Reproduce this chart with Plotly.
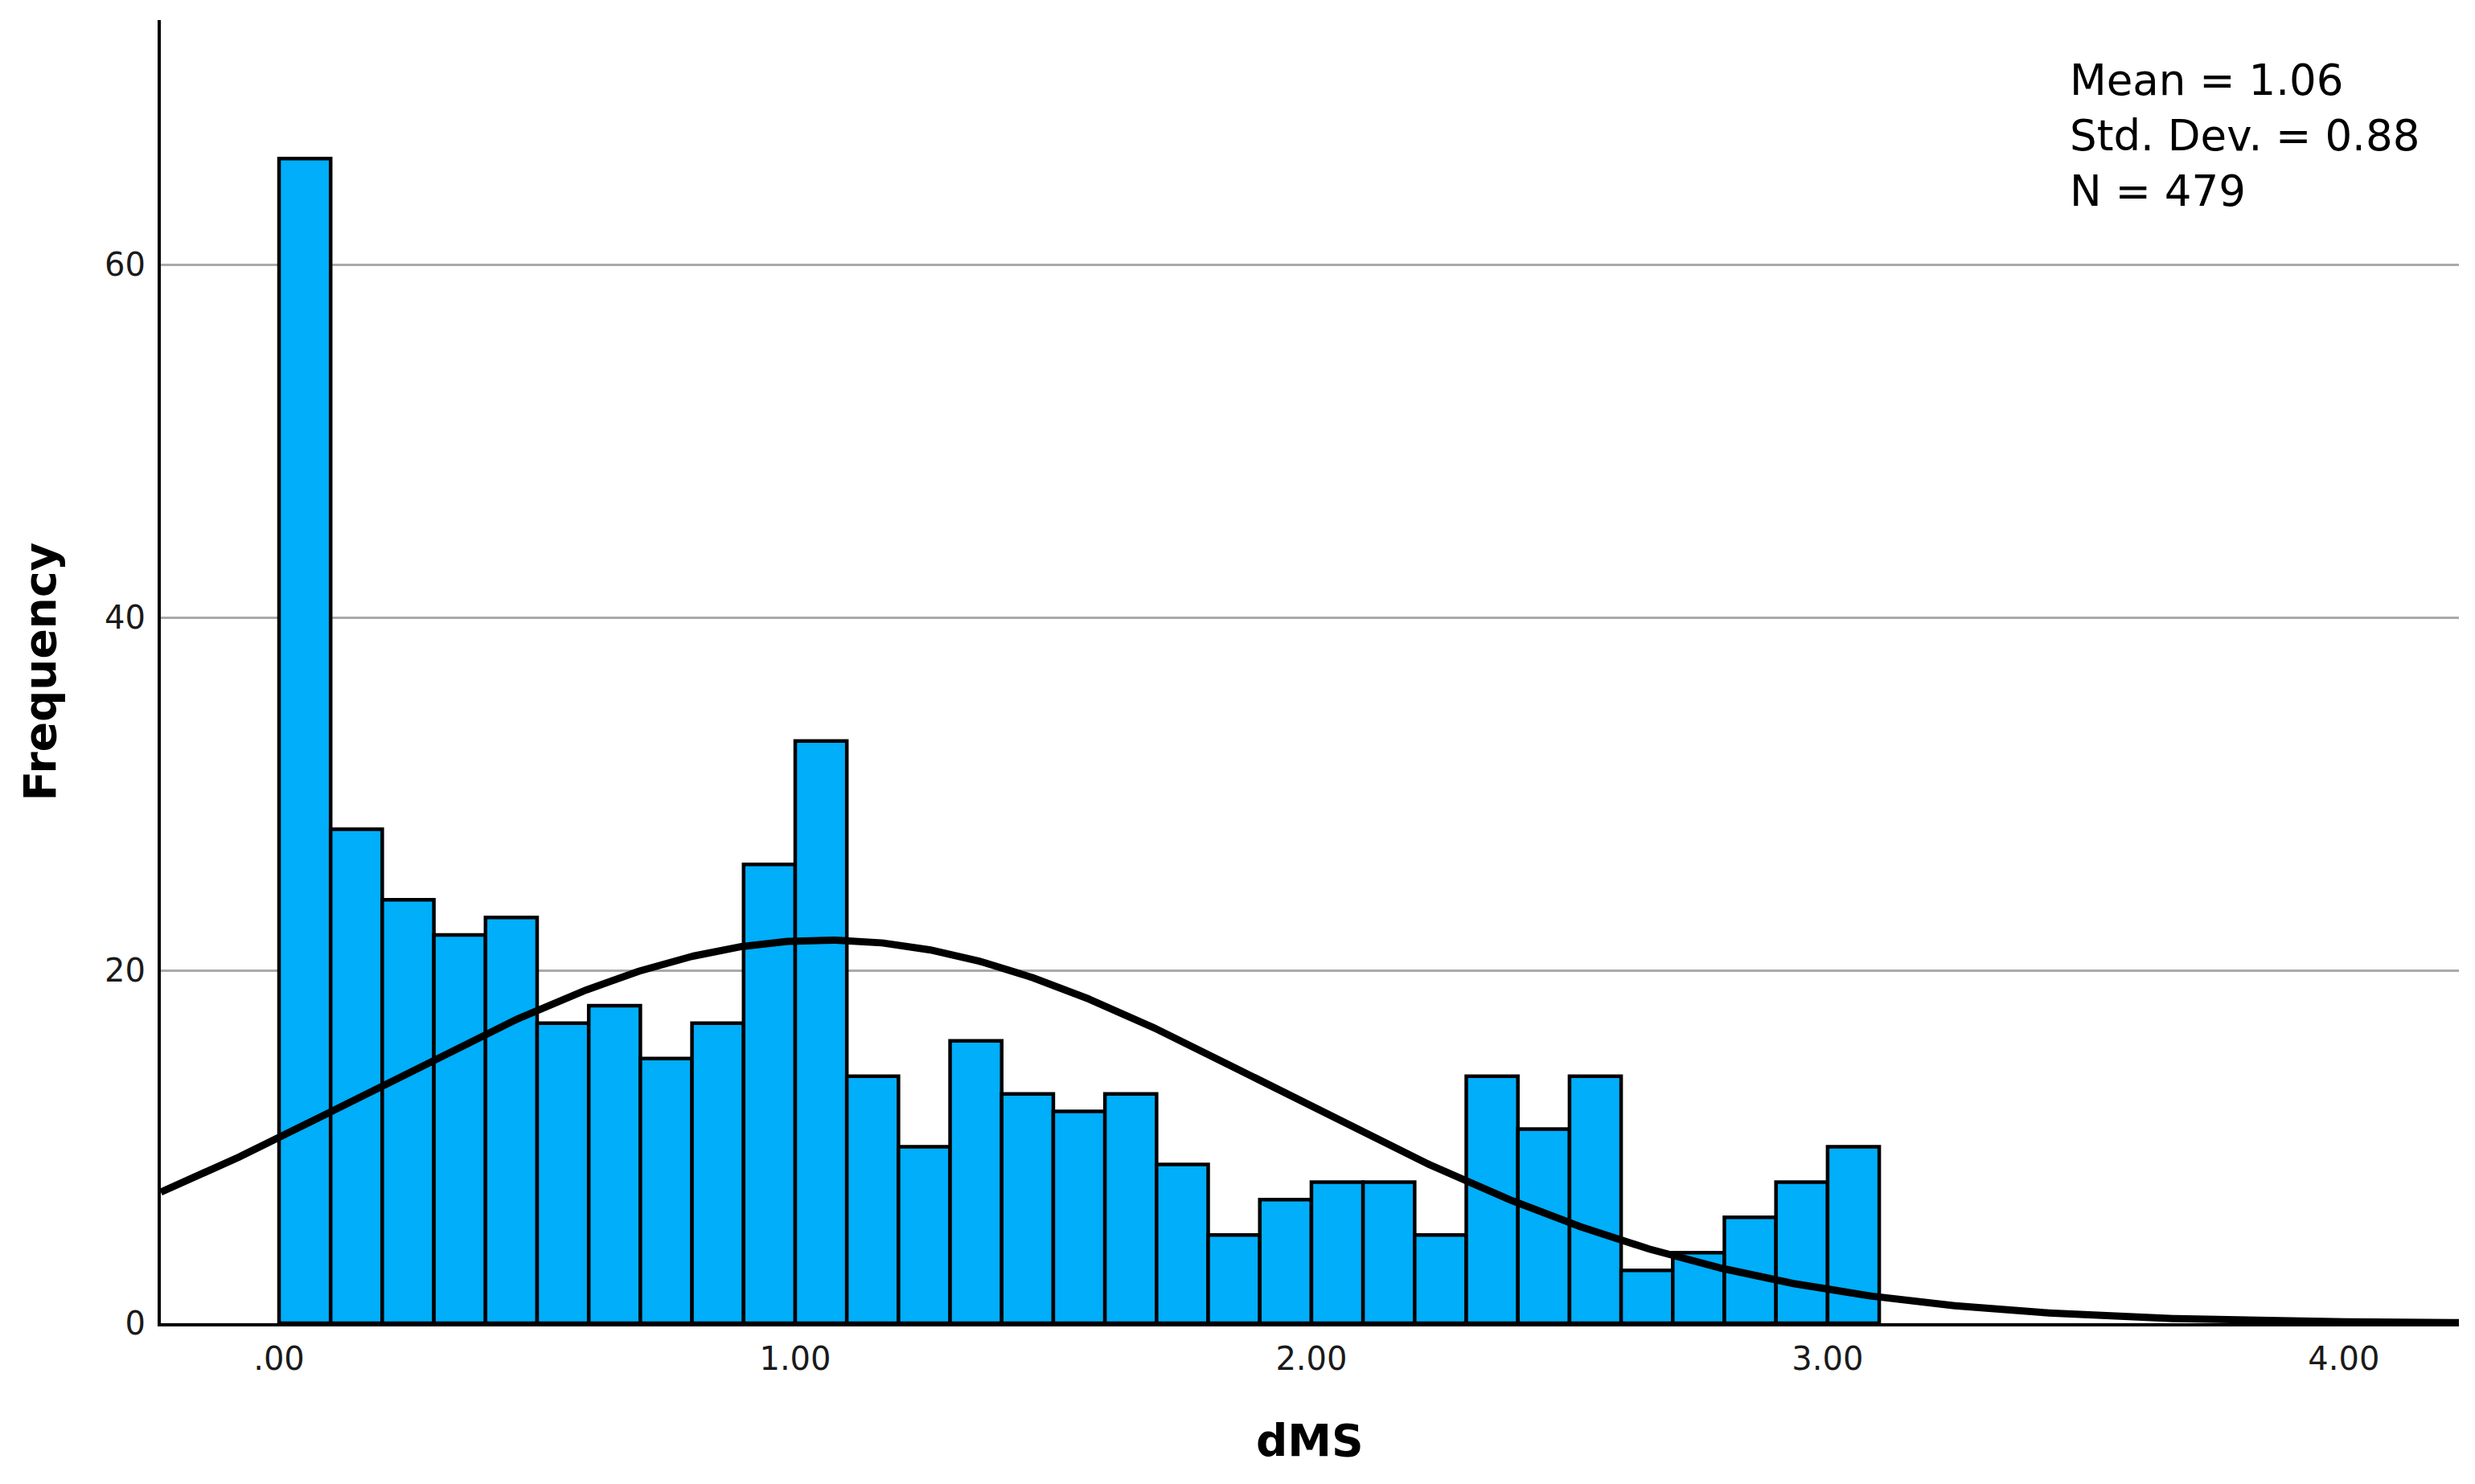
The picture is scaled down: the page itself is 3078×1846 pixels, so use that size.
import numpy as np
import plotly.graph_objects as go

# histogram bins (left edges, width 0.1) and counts
bin_left = [0.0, 0.1, 0.2, 0.3, 0.4, 0.5, 0.6, 0.7, 0.8, 0.9,
            1.0, 1.1, 1.2, 1.3, 1.4, 1.5, 1.6, 1.7, 1.8, 1.9,
            2.0, 2.1, 2.2, 2.3, 2.4, 2.5, 2.6, 2.7, 2.8, 2.9, 3.0]
counts = [66, 28, 24, 22, 23, 17, 18, 15, 17, 26,
          33, 14, 10, 16, 13, 12, 13, 9, 5, 7,
          8, 8, 5, 14, 11, 14, 3, 4, 6, 8, 10]
bin_width = 0.1

# summary statistics shown in the corner
mean = 1.06
std_dev = 0.88
n = 479

x_tick_vals = [0, 1, 2, 3, 4]
x_tick_labels = [".00", "1.00", "2.00", "3.00", "4.00"]
y_tick_vals = [0, 20, 40, 60]
y_tick_labels = ["0", "20", "40", "60"]

x_range = [-0.229, 4.223]
y_range = [0, 73.85]

# normal curve scaled to the histogram (count per bin)
xs = np.linspace(x_range[0], x_range[1], 1200)
curve = n * bin_width / (std_dev * np.sqrt(2 * np.pi)) * np.exp(-0.5 * ((xs - mean) / std_dev) ** 2)

centers = [b + bin_width / 2 for b in bin_left]

fig = go.Figure()
fig.add_trace(go.Bar(
    x=centers, y=counts, width=bin_width,
    marker=dict(color="rgb(0,174,250)", line=dict(color="black", width=4.5)),
    showlegend=False, hoverinfo="x+y",
))
fig.add_trace(go.Scatter(
    x=xs, y=curve, mode="lines",
    line=dict(color="black", width=9),
    showlegend=False, hoverinfo="skip",
))

tick_font = dict(family="DejaVu Sans", size=40, color="#1a1a1a")
title_font = dict(family="DejaVu Sans", size=55, color="black")

# page body adds ~8px offset, so margins are shifted to compensate
fig.update_layout(
    width=3078, height=1846,
    margin=dict(l=192, r=28, t=17, b=208),
    paper_bgcolor="white", plot_bgcolor="white",
    bargap=0.055,
    xaxis=dict(
        range=x_range, tickvals=x_tick_vals, ticktext=x_tick_labels,
        showgrid=False, zeroline=False, showline=True,
        linecolor="black", linewidth=4, ticks="", tickfont=tick_font,
        ticklabelstandoff=6,
    ),
    yaxis=dict(
        range=y_range, tickvals=y_tick_vals, ticktext=y_tick_labels,
        showgrid=True, gridcolor="#aaaaaa", gridwidth=3,
        zeroline=False, showline=True,
        linecolor="black", linewidth=4, ticks="", tickfont=tick_font,
        ticklabelstandoff=7,
    ),
)

# axis titles
fig.add_annotation(text="<b>Frequency</b>", xref="paper", yref="paper",
                   x=(49 - 200) / 2858, y=0.5, textangle=-90, showarrow=False,
                   xanchor="center", yanchor="middle", font=title_font)
fig.add_annotation(text="<b>dMS</b>", xref="paper", yref="paper",
                   x=0.5, y=(1646 - 1792) / 1621, showarrow=False,
                   xanchor="center", yanchor="middle", font=title_font)

# statistics box text
stats_lines = [f"Mean = {mean:.2f}", f"Std. Dev. = {std_dev:.2f}", f"N = {n}"]
fig.add_annotation(text="<br>".join(stats_lines), xref="paper", yref="paper",
                   x=(2572 - 200) / 2858, y=(1646 - 169) / 1621,
                   xanchor="left", yanchor="middle", align="left", showarrow=False,
                   font=dict(family="DejaVu Sans", size=53, color="black"))

fig.write_html("out.html")
